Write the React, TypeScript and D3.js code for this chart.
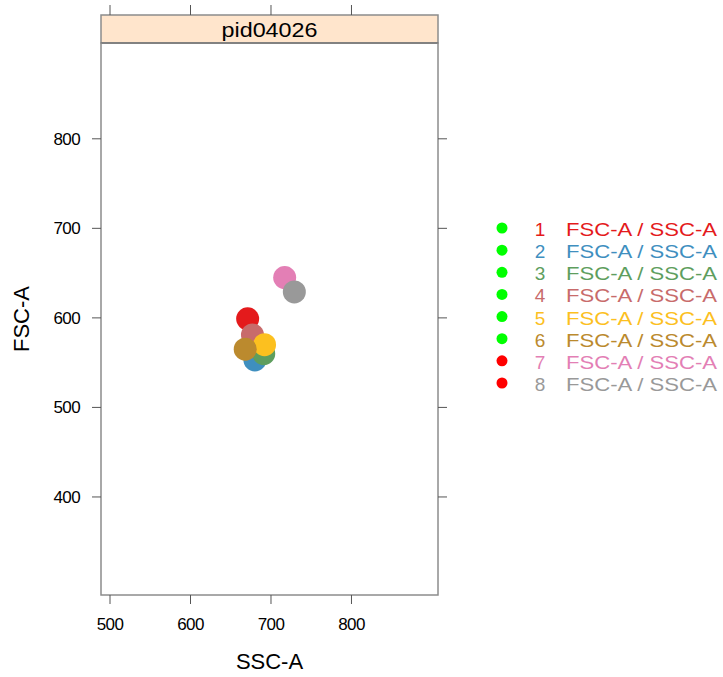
import React from "react";
import * as d3 from "d3";

const ids = ["1", "2", "3", "4", "5", "6", "7", "8"];
const sscValues = [671, 680, 691, 677, 692, 668, 717, 729];
const fscValues = [599, 553, 560, 581, 570, 565, 645, 629];
const pointColors = ["#E41A1C", "#3F8FBF", "#5E9E5E", "#C86B6B", "#FCC01F", "#BB8A2E", "#E37FB5", "#999999"];
const flagColors = ["#00FF00", "#00FF00", "#00FF00", "#00FF00", "#00FF00", "#00FF00", "#FF0000", "#FF0000"];
const xTicks = [500, 600, 700, 800];
const yTicks = [400, 500, 600, 700, 800];
const panelTitle = "pid04026";
const legendLabel = "FSC-A / SSC-A";

export default function App() {
  const width = 723;
  const height = 677;
  const panel = { left: 101, right: 438, top: 43, bottom: 595 };
  const strip = { top: 15, bottom: 43 };
  const font = "'Liberation Sans', Arial, Helvetica, sans-serif";
  const axisCol = "#8c8c8c";

  const x = d3.scaleLinear().domain([488.8, 907.5]).range([panel.left, panel.right]);
  const y = d3.scaleLinear().domain([290.5, 907]).range([panel.bottom, panel.top]);

  const legendY = d3.scalePoint().domain(ids).range([228, 383]);

  return (
    <div style={{ position: "absolute", left: 0, top: 0 }}>
      <svg width={width} height={height} style={{ display: "block", background: "#fff" }}>
        {/* strip */}
        <rect x={panel.left} y={strip.top} width={panel.right - panel.left} height={strip.bottom - strip.top}
          fill="#FFE5CC" stroke={axisCol} strokeWidth={1.5} />
        <text x={(panel.left + panel.right) / 2} y={37} textAnchor="middle" fontSize={20} fontFamily={font} fill="#000"
          textLength={96} lengthAdjust="spacingAndGlyphs">
          {panelTitle}
        </text>
        <line x1={panel.left} x2={panel.right} y1={strip.bottom} y2={strip.bottom} stroke="#222" strokeWidth={1} />

        {/* points */}
        {ids.map((id, i) => (
          <circle key={id} cx={x(sscValues[i])} cy={y(fscValues[i])} r={11.5} fill={pointColors[i]} />
        ))}

        {/* panel border */}
        <rect x={panel.left} y={panel.top} width={panel.right - panel.left} height={panel.bottom - panel.top}
          fill="none" stroke={axisCol} strokeWidth={1.5} />

        {/* x ticks bottom and top */}
        {xTicks.map((t) => (
          <g key={"x" + t}>
            <line x1={x(t)} x2={x(t)} y1={panel.bottom} y2={panel.bottom + 9} stroke="#555" />
            <line x1={x(t)} x2={x(t)} y1={strip.top} y2={strip.top - 10} stroke="#555" />
            <text x={x(t)} y={630} textAnchor="middle" fontSize={17} fontFamily={font} fill="#000" letterSpacing={-0.6}>
              {t}
            </text>
          </g>
        ))}

        {/* y ticks left and right */}
        {yTicks.map((t) => (
          <g key={"y" + t}>
            <line x1={panel.left - 9} x2={panel.left} y1={y(t)} y2={y(t)} stroke="#555" />
            <line x1={panel.right} x2={panel.right + 9} y1={y(t)} y2={y(t)} stroke="#555" />
            <text x={80} y={y(t) + 6} textAnchor="end" fontSize={17} fontFamily={font} fill="#000" letterSpacing={-0.6}>
              {t}
            </text>
          </g>
        ))}

        {/* axis titles */}
        <text x={(panel.left + panel.right) / 2} y={669} textAnchor="middle" fontSize={22} fontFamily={font} fill="#000">
          SSC-A
        </text>
        <text transform={`translate(29, ${(panel.top + panel.bottom) / 2}) rotate(-90)`} textAnchor="middle"
          fontSize={22} fontFamily={font} fill="#000">
          FSC-A
        </text>

        {/* legend */}
        {ids.map((id, i) => (
          <g key={"leg" + id} transform={`translate(0, ${legendY(id)})`}>
            <circle cx={502} cy={0} r={5.5} fill={flagColors[i]} />
            <text x={540} y={8} textAnchor="middle" fontSize={19} fontFamily={font} fill={pointColors[i]}>
              {id}
            </text>
            <text x={566} y={8} fontSize={19} fontFamily={font} fill={pointColors[i]}
              textLength={151} lengthAdjust="spacingAndGlyphs">
              {legendLabel}
            </text>
          </g>
        ))}
      </svg>
    </div>
  );
}
